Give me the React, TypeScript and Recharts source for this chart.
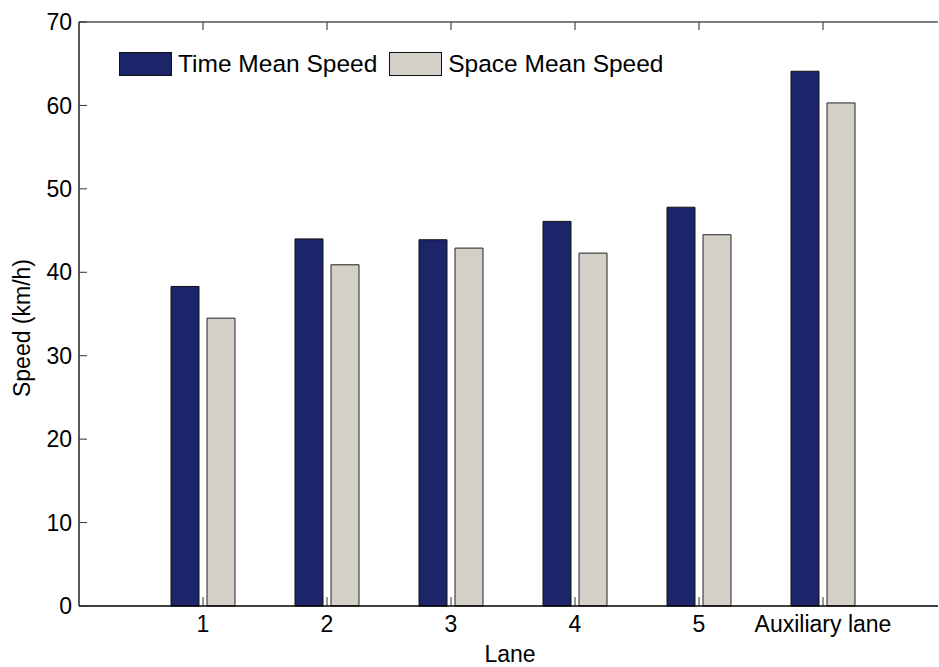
import React from 'react';
import { BarChart, Bar, XAxis, YAxis, Legend, ReferenceLine, Label } from 'recharts';

const lanes = ['1', '2', '3', '4', '5', 'Auxiliary lane'];
const timeMeanSpeed = [38.3, 44.0, 43.9, 46.1, 47.8, 64.1];
const spaceMeanSpeed = [34.5, 40.9, 42.9, 42.3, 44.5, 60.3];
const yTicks = [0, 10, 20, 30, 40, 50, 60, 70];

const data = lanes.map((lane, i) => ({
  lane,
  tms: timeMeanSpeed[i],
  sms: spaceMeanSpeed[i],
}));

const FONT = '"Liberation Sans", Arial, Helvetica, sans-serif';
const NAVY = '#1c246a';
const GRAY = '#d4d0c8';
const Y_MAX = 70;
const TOP_TICK_LEN = 0.95;

const renderLegend = () => (
  <div style={{ display: 'flex', alignItems: 'center', fontFamily: FONT, fontSize: 24.5, color: '#000', whiteSpace: 'nowrap' }}>
    <div style={{ width: 51, height: 22, background: NAVY, border: '1px solid #111' }} />
    <span style={{ marginLeft: 6, marginRight: 12 }}>Time Mean Speed</span>
    <div style={{ width: 51, height: 22, background: GRAY, border: '1px solid #111' }} />
    <span style={{ marginLeft: 6 }}>Space Mean Speed</span>
  </div>
);

export default function App() {
  return (
    <div style={{ position: 'absolute', left: 0, top: 0, width: 939, height: 667, background: '#fff' }}>
      <BarChart
        width={939}
        height={667}
        data={data}
        margin={{ top: 22, right: 1, bottom: 0, left: 0 }}
        barGap={8}
        barSize={28}
      >
        <XAxis
          dataKey="lane"
          padding={{ left: 62, right: 53 }}
          height={61}
          interval={0}
          tickSize={-9}
          tickMargin={19}
          tick={{ fill: '#000', fontSize: 23, fontFamily: FONT }}
          axisLine={{ stroke: '#000', strokeWidth: 1.3 }}
          tickLine={{ stroke: '#333' }}
        >
          <Label
            content={() => (
              <text x={510} y={662} textAnchor="middle" fontSize={23} fontFamily={FONT} fill="#000">
                Lane
              </text>
            )}
          />
        </XAxis>
        <YAxis
          width={79}
          domain={[0, Y_MAX]}
          ticks={yTicks}
          interval={0}
          tickSize={-8}
          tickMargin={15}
          tick={{ fill: '#000', fontSize: 23, fontFamily: FONT }}
          axisLine={{ stroke: '#000', strokeWidth: 1.3 }}
          tickLine={{ stroke: '#333' }}
        >
          <Label
            content={() => (
              <text
                x={0}
                y={0}
                transform="translate(30,328) rotate(-90)"
                textAnchor="middle"
                fontSize={23}
                fontFamily={FONT}
                fill="#000"
              >
                Speed (km/h)
              </text>
            )}
          />
        </YAxis>
        <ReferenceLine y={Y_MAX} stroke="#555" strokeWidth={1.3} ifOverflow="visible" />
        {lanes.map((lane) => (
          <ReferenceLine
            key={'tt' + lane}
            segment={[
              { x: lane, y: Y_MAX },
              { x: lane, y: Y_MAX - TOP_TICK_LEN },
            ]}
            stroke="#555"
            strokeWidth={1.3}
            ifOverflow="visible"
          />
        ))}
        <Legend
          layout="vertical"
          align="center"
          verticalAlign="middle"
          content={renderLegend}
          wrapperStyle={{ left: 119, top: 50, width: 600, height: 26 }}
        />
        <Bar dataKey="tms" name="Time Mean Speed" fill={NAVY} stroke="#111" strokeWidth={1} isAnimationActive={false} />
        <Bar dataKey="sms" name="Space Mean Speed" fill={GRAY} stroke="#222" strokeWidth={1} isAnimationActive={false} />
      </BarChart>
    </div>
  );
}
